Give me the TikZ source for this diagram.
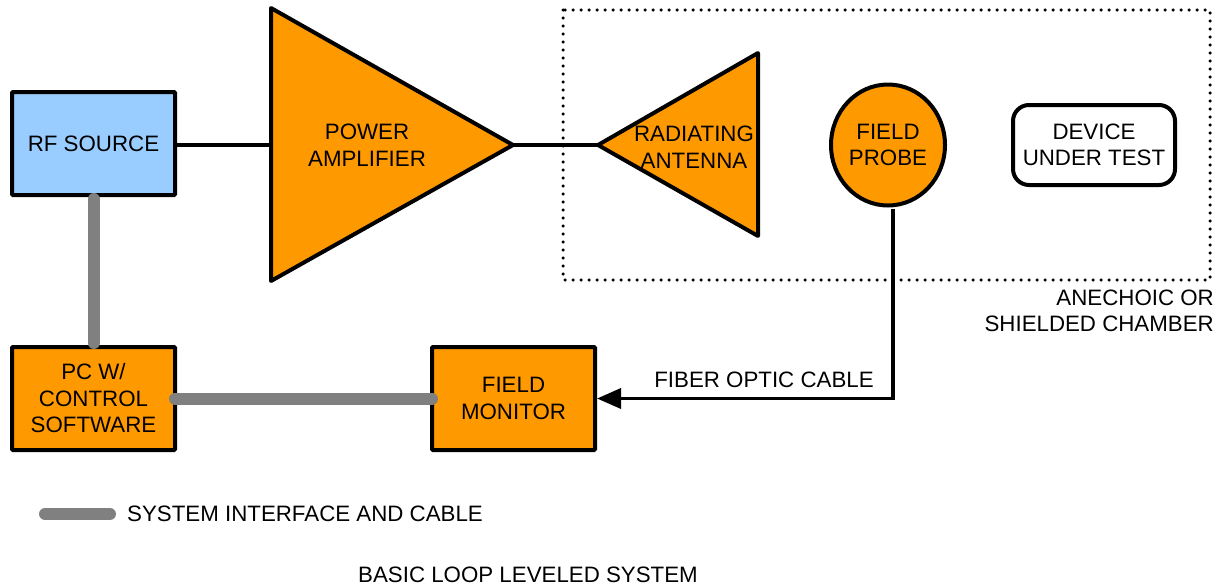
\documentclass[tikz,border=0pt]{standalone}
\usepackage{fontspec}
\setmainfont{Liberation Sans}
\usetikzlibrary{arrows.meta,shapes.geometric}
\definecolor{orng}{HTML}{FF9900}
\definecolor{lblue}{HTML}{99CCFF}
\definecolor{cgrey}{HTML}{808080}
\begin{document}
\begin{tikzpicture}[x=1pt,y=-1pt,
  every node/.style={font=\fontsize{22.3}{26.5}\selectfont, align=center, inner sep=0pt},
  blk/.style={draw=black, line width=4pt, minimum width=163pt, minimum height=103pt, rounded corners=1pt},
  wire/.style={draw=black, line width=3.5pt},
  cable/.style={draw=cgrey, line width=12pt, line cap=round},
  tri/.style={draw=black, fill=orng, line width=4pt, line join=round}]
\useasboundingbox (0,0) rectangle (1222,587);
% chamber
\draw[line width=3.5pt, dash pattern=on 0pt off 8pt, line cap=round] (563,10) rectangle (1210,280);
\node[anchor=east, align=right] (chamber) at (1214,311) {ANECHOIC OR\\SHIELDED CHAMBER};
% blocks
\node[blk, fill=lblue] (rf) at (93.5,143.5) {RF SOURCE};
\node[blk, fill=orng] (pc) at (93.5,398.5) {PC W/\\CONTROL\\SOFTWARE};
\node[blk, fill=orng] (fm) at (513.5,398.5) {FIELD\\MONITOR};
% amplifier
\coordinate (ampin) at (271,145);
\coordinate (ampout) at (513,145);
\draw[tri] (271,8) -- (ampout) -- (271,281) -- cycle;
\node (amp) at (367,145) {POWER\\AMPLIFIER};
% antenna
\coordinate (antin) at (598,145);
\draw[tri] (antin) -- (758,53) -- (758,236) -- cycle;
\node (ant) at (694,147) {RADIATING\\ANTENNA};
% probe
\node[draw=black, fill=orng, line width=4pt, ellipse, minimum width=114pt, minimum height=121pt] (probe) at (888,145) {FIELD\\PROBE};
% DUT
\node[draw=black, line width=4pt, rounded corners=16pt, minimum width=162pt, minimum height=80pt] (dut) at (1094,145) {DEVICE\\UNDER TEST};
% connectors
\draw[wire] (rf.east |- ampin) -- (ampin);
\draw[wire] (ampout) -- (antin);
\coordinate (pout) at ([xshift=5pt,yshift=-1pt]probe.south);
\coordinate (bend) at (pout |- fm.east);
\draw[wire, -{Triangle[length=24pt,width=20pt]}] (pout) -- (bend) -- (fm.east);
\node (fiber) at (764,380) {FIBER OPTIC CABLE};
\draw[cable] ([yshift=-2pt]rf.south) -- ([yshift=2pt]pc.north);
\draw[cable] ([xshift=-2pt]pc.east) -- ([xshift=2pt]fm.west);
% legend
\coordinate (lg1) at (45,514);
\coordinate (lg2) at (110,514);
\draw[cable] (lg1) -- (lg2);
\node[anchor=west] (legend) at (127,514) {SYSTEM INTERFACE AND CABLE};
\node (title) at (528,575) {BASIC LOOP LEVELED SYSTEM};
\end{tikzpicture}
\end{document}
